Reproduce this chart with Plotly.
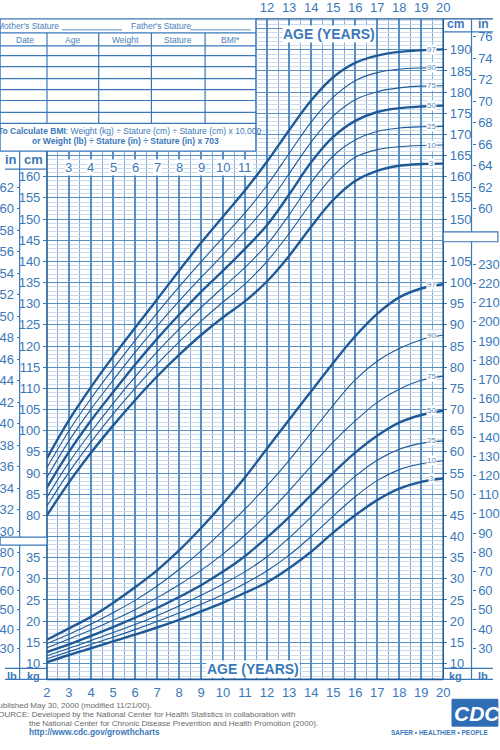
import plotly.graph_objects as go

# ---------------- data ----------------
AGES = list(range(2, 21))
PCT_LABELS = ["97", "90", "75", "50", "25", "10", "3"]

STATURE_P97 = [93.5, 102.5, 110.3, 117.5, 124.3, 131.0, 137.8, 144.4, 150.6, 156.8, 163.6, 171.0, 178.0, 183.5, 186.9, 188.6, 189.5, 189.9, 190.1]
STATURE_P90 = [91.3, 100.0, 107.6, 114.6, 121.3, 127.8, 134.0, 139.9, 145.7, 151.5, 158.0, 165.5, 172.9, 178.8, 182.7, 184.6, 185.4, 185.7, 185.8]
STATURE_P75 = [89.0, 97.6, 105.1, 111.9, 118.5, 124.7, 130.6, 136.2, 141.6, 147.2, 153.3, 160.7, 168.2, 174.3, 178.2, 180.1, 181.0, 181.4, 181.5]
STATURE_P50 = [86.6, 95.0, 102.4, 109.1, 115.6, 121.7, 127.4, 132.8, 137.8, 143.0, 148.6, 155.8, 163.4, 169.4, 173.2, 175.3, 176.2, 176.6, 176.8]
STATURE_P25 = [84.3, 92.5, 99.7, 106.4, 112.7, 118.6, 124.0, 129.1, 133.9, 138.6, 144.0, 151.0, 158.6, 164.9, 168.7, 170.7, 171.5, 171.8, 171.9]
STATURE_P10 = [82.2, 90.2, 97.3, 103.9, 110.0, 115.7, 121.0, 125.9, 130.4, 134.7, 140.0, 146.6, 153.8, 160.2, 164.6, 166.4, 167.1, 167.4, 167.5]
STATURE_P3 = [80.0, 87.8, 94.8, 101.2, 107.2, 112.8, 117.9, 122.6, 126.8, 130.6, 135.3, 141.3, 148.2, 154.5, 159.0, 161.4, 162.6, 163.0, 163.1]

WEIGHT_P97 = [15.6, 18.3, 21.0, 24.3, 28.0, 32.0, 36.7, 42.0, 47.8, 54.0, 60.8, 67.6, 74.3, 81.0, 87.3, 92.6, 96.5, 98.6, 99.6]
WEIGHT_P90 = [14.7, 16.9, 19.3, 22.0, 24.9, 28.3, 32.2, 36.6, 41.4, 46.5, 52.0, 58.0, 64.5, 71.0, 77.0, 81.4, 84.4, 86.5, 87.6]
WEIGHT_P75 = [13.7, 15.8, 17.9, 20.2, 22.7, 25.5, 28.6, 32.0, 35.9, 40.3, 45.3, 50.8, 56.6, 62.3, 67.3, 71.7, 74.8, 76.9, 77.9]
WEIGHT_P50 = [12.7, 14.5, 16.5, 18.6, 20.8, 23.1, 25.7, 28.5, 31.7, 35.4, 39.8, 44.6, 49.8, 55.0, 59.8, 63.8, 66.9, 68.7, 69.7]
WEIGHT_P25 = [11.8, 13.6, 15.4, 17.3, 19.2, 21.3, 23.6, 26.1, 28.8, 31.7, 35.2, 39.7, 44.6, 49.6, 54.2, 58.0, 60.6, 62.0, 62.6]
WEIGHT_P10 = [11.1, 12.8, 14.5, 16.2, 18.0, 19.9, 21.9, 24.0, 26.3, 28.9, 31.9, 35.6, 40.0, 44.8, 49.4, 53.2, 55.8, 57.2, 57.9]
WEIGHT_P3 = [10.3, 12.0, 13.6, 15.2, 16.8, 18.5, 20.3, 22.3, 24.4, 26.7, 29.2, 32.5, 36.4, 40.9, 45.0, 48.6, 51.3, 52.9, 53.7]

STATURE = [STATURE_P97, STATURE_P90, STATURE_P75, STATURE_P50, STATURE_P25, STATURE_P10, STATURE_P3]
WEIGHT = [WEIGHT_P97, WEIGHT_P90, WEIGHT_P75, WEIGHT_P50, WEIGHT_P25, WEIGHT_P10, WEIGHT_P3]
THICK = ["97", "50", "3"]

AGE_TICKS_BOTTOM = list(range(2, 21))
AGE_TICKS_TOP = list(range(12, 21))
AGE_TICKS_INNER = list(range(3, 12))
CM_LEFT_TICKS = list(range(80, 161, 5))
CM_RIGHT_TICKS = list(range(150, 191, 5))
IN_LEFT_TICKS = list(range(30, 63, 2))
IN_RIGHT_TICKS = list(range(60, 77, 2))
KG_LEFT_TICKS = list(range(10, 36, 5))
KG_RIGHT_TICKS = list(range(10, 106, 5))
LB_LEFT_TICKS = list(range(30, 81, 10))
LB_RIGHT_TICKS = list(range(30, 231, 10))

TABLE_HEADERS = ["Date", "Age", "Weight", "Stature", "BMI*"]

# ---------------- geometry / style ----------------
W, H = 500, 750
PX_L, PX_R, PX_T, PX_B = 43, 449, 15, 679
KG_LO, KG_HI = 6.24, 162.29
CM_OFF = 35.0
KG2LB = 2.20462

BLUE = "#3a78ba"
DARK = "#1f5a97"
GRID = "#5a8fc6"
GRID2 = "#86acd6"
MINOR = "#cbdbeb"
FONT = "Liberation Sans, Arial, sans-serif"


def px(x):
    return x / W


def py(y):
    return 1 - y / H


fig = go.Figure()

for lab, s in zip(PCT_LABELS, STATURE):
    fig.add_trace(go.Scatter(x=AGES, y=s, yaxis="y2", mode="lines",
                             line=dict(color=DARK, width=2.4 if lab in THICK else 1.1, shape="spline", smoothing=1.0),
                             hoverinfo="skip", showlegend=False))
for lab, w in zip(PCT_LABELS, WEIGHT):
    fig.add_trace(go.Scatter(x=AGES, y=w, yaxis="y", mode="lines",
                             line=dict(color=DARK, width=2.4 if lab in THICK else 1.1, shape="spline", smoothing=1.0),
                             hoverinfo="skip", showlegend=False))

tickfont = dict(family=FONT, size=13, color=BLUE)
cm_range = [KG_LO + CM_OFF, KG_HI + CM_OFF]
in_range = [v / 2.54 for v in cm_range]
lb_range = [KG_LO * KG2LB, KG_HI * KG2LB]
ydom = [py(PX_B), py(PX_T)]


def label_axis(rng, vals, side, anchor="x", position=None):
    d = dict(range=rng, overlaying="y", side=side, tickvals=vals, showgrid=False, zeroline=False,
             ticks="outside", ticklen=3, tickcolor=BLUE, tickwidth=1, tickfont=tickfont,
             showline=False, fixedrange=True)
    if position is not None:
        d["anchor"] = "free"
        d["position"] = position
    else:
        d["anchor"] = anchor
    return d


fig.update_layout(
    width=W, height=H, autosize=False,
    margin=dict(l=0, r=0, t=0, b=0),
    paper_bgcolor="white", plot_bgcolor="white",
    font=dict(family=FONT, color=BLUE),
    xaxis=dict(range=[2, 20], domain=[px(PX_L), px(PX_R)], tickvals=AGE_TICKS_BOTTOM,
               showgrid=True, gridcolor=GRID, gridwidth=1.5, zeroline=False,
               minor=dict(dtick=0.5, tick0=0, showgrid=True, gridcolor=GRID2, gridwidth=0.8),
               ticks="outside", ticklen=1, tickcolor="white", tickfont=tickfont, fixedrange=True),
    xaxis2=dict(range=[2, 20], overlaying="x", side="top", anchor="y", tickvals=AGE_TICKS_TOP,
                showgrid=False, zeroline=False, ticks="outside", ticklen=1, tickcolor="white",
                tickfont=tickfont, fixedrange=True),
    yaxis=dict(range=[KG_LO, KG_HI], domain=ydom, showticklabels=False, zeroline=False,
               showgrid=True, dtick=5, tick0=0, gridcolor=GRID, gridwidth=1.2,
               minor=dict(dtick=1, tick0=0, showgrid=True, gridcolor=MINOR, gridwidth=0.7),
               fixedrange=True),
    yaxis2=label_axis(cm_range, CM_LEFT_TICKS, "left"),
    yaxis3=label_axis(cm_range, CM_RIGHT_TICKS, "right"),
    yaxis4=label_axis([KG_LO, KG_HI], KG_LEFT_TICKS, "left"),
    yaxis5=label_axis([KG_LO, KG_HI], KG_RIGHT_TICKS, "right"),
    yaxis6=label_axis(in_range, IN_LEFT_TICKS, "left", position=px(15)),
    yaxis7=label_axis(in_range, IN_RIGHT_TICKS, "right", position=px(478)),
    yaxis8=label_axis(lb_range, LB_LEFT_TICKS, "left", position=px(15)),
    yaxis9=label_axis(lb_range, LB_RIGHT_TICKS, "right", position=px(478)),
)

# invisible traces so every label axis is rendered
for ax in ["y3", "y4", "y5", "y6", "y7", "y8", "y9"]:
    fig.add_trace(go.Scatter(x=[None], y=[None], yaxis=ax, showlegend=False, hoverinfo="skip"))
fig.add_trace(go.Scatter(x=[None], y=[None], xaxis="x2", showlegend=False, hoverinfo="skip"))

shapes = []


def line(x0, y0, x1, y1, color=BLUE, width=1.2):
    shapes.append(dict(type="line", xref="paper", yref="paper", x0=px(x0), y0=py(y0), x1=px(x1), y1=py(y1),
                       line=dict(color=color, width=width), layer="above"))


def rect(x0, y0, x1, y1, fill="white", color=BLUE, width=1.2):
    shapes.append(dict(type="rect", xref="paper", yref="paper", x0=px(x0), y0=py(y0), x1=px(x1), y1=py(y1),
                       fillcolor=fill, line=dict(color=color, width=width), layer="above"))


# top-left table
rect(-5, PX_T, 257, 148)
table_rows = [29, 42, 52, 63, 75, 86, 97, 109, 120]
for yy in table_rows:
    line(-5, yy, 257, yy)
for xx in [43, 96, 150, 205]:
    line(xx, 29, xx, 120)
line(58, 26, 120, 26, width=0.8)
line(190, 26, 252, 26, width=0.8)

# plot frame & columns
line(PX_L, 148, PX_L, PX_B, color=DARK, width=1.6)
line(PX_R, PX_T, PX_R, PX_B, color=DARK, width=1.6)
line(PX_L, PX_B, PX_R, PX_B, color=DARK, width=1.6)
line(257, PX_T, 500, PX_T, color=DARK, width=1.4)
line(15, 148, 15, PX_B)
line(478, PX_T, 478, PX_B)
line(0, PX_B, PX_L, PX_B)
line(PX_R, PX_B, 500, PX_B)
line(0, 166, PX_L, 166)
line(0, 668, PX_L, 668)
line(PX_R, 668, 500, 668)
line(PX_R, 28, 500, 28)
# separators between stature and weight scales
rect(-5, 536, PX_L, 544)
rect(PX_R, 229, 505, 239)

annotations = []


def ann(x, y, text, size=13, color=BLUE, bold=False, xanchor="center", bg=None, family=FONT, italic=False):
    t = f"<b>{text}</b>" if bold else text
    if italic:
        t = f"<i>{t}</i>"
    d = dict(x=px(x), y=py(y), xref="paper", yref="paper", text=t, showarrow=False,
             xanchor=xanchor, yanchor="middle", font=dict(family=family, size=size, color=color))
    if bg:
        d["bgcolor"] = bg
        d["borderpad"] = 0
    annotations.append(d)


# table texts
ann(-10, 22, "Mother's Stature", size=8.5, color="#4a80b8", xanchor="left")
ann(127, 22, "Father's Stature", size=8.5, color="#4a80b8", xanchor="left")
for cx, h in zip([20, 69, 123, 177, 231], TABLE_HEADERS):
    ann(cx, 36, h, size=8.5, color="#4a80b8")
ann(128, 128, "<b>To Calculate BMI</b>: Weight (kg) ÷ Stature (cm) ÷ Stature (cm) x 10,000",
    size=8.5, color=BLUE)
ann(123, 138, "or Weight (lb) ÷ Stature (in) ÷ Stature (in) x 703", size=8.5, color=BLUE, bold=True)

# column headers
ann(6, 156, "in", bold=True)
ann(29, 156, "cm", bold=True)
ann(7, 676, "lb", size=11, bold=True)
ann(29, 676, "kg", size=11, bold=True)
ann(462, 20, "cm", size=12, bold=True)
ann(490, 20, "in", size=12, bold=True)
ann(462, 676, "kg", size=11, bold=True)
ann(490, 676, "lb", size=11, bold=True)

# inner age labels on the stature grid
for a in AGE_TICKS_INNER:
    annotations.append(dict(x=a, y=py(156), xref="x", yref="paper", text=str(a), showarrow=False,
                            font=dict(family=FONT, size=13, color=BLUE), bgcolor="white", borderpad=0))

# AGE (YEARS)
ann(332, 30, "AGE (YEARS)", size=14, bold=True, bg="white")
ann(254, 669, "AGE (YEARS)", size=14, bold=True, bg="white")

# percentile labels at right ends
for lab, s in zip(PCT_LABELS, STATURE):
    annotations.append(dict(x=19.45, y=s[-1], xref="x", yref="y2", text=lab, showarrow=False,
                            font=dict(family=FONT, size=8, color="#5a88b8"), bgcolor="white", borderpad=0))
for lab, w in zip(PCT_LABELS, WEIGHT):
    annotations.append(dict(x=19.45, y=w[-1], xref="x", yref="y", text=lab, showarrow=False,
                            font=dict(family=FONT, size=8, color="#5a88b8"), bgcolor="white", borderpad=0))

# footer
ann(-14, 705, "Published May 30, 2000 (modified 11/21/00).", size=8, color="#6a6a6a", xanchor="left")
ann(-14, 714, "SOURCE: Developed by the National Center for Health Statistics in collaboration with",
    size=8, color="#6a6a6a", xanchor="left")
ann(23, 723, "the National Center for Chronic Disease Prevention and Health Promotion (2000).",
    size=8, color="#6a6a6a", xanchor="left")
ann(23, 732, "http://www.cdc.gov/growthcharts", size=8.3, color=BLUE, bold=True, xanchor="left")

# CDC logo
rect(458, 699, 505, 726, fill="#2f6db4", color="#2f6db4", width=1)
ann(484, 713, "CDC", size=21, color="white", bold=True, italic=True)
ann(393, 732, "SAFER • HEALTHIER • PEOPLE", size=6.5, color=BLUE, bold=True, xanchor="left")

fig.update_layout(shapes=shapes, annotations=annotations)
fig.write_html("out.html")
